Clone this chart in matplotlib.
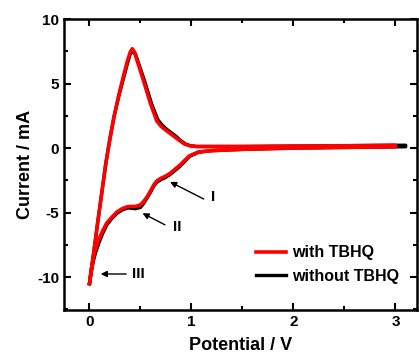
import matplotlib
matplotlib.use('Agg')
import matplotlib.pyplot as plt
from matplotlib.ticker import MultipleLocator

plt.rcParams['font.family'] = ['Liberation Sans', 'DejaVu Sans']
plt.rcParams['font.weight'] = 'bold'
plt.rcParams['axes.unicode_minus'] = False

# with TBHQ (red): forward scan then reverse scan
red_fwd_v = [0.00, 0.04, 0.08, 0.12, 0.16, 0.20, 0.24, 0.29, 0.34, 0.37, 0.40, 0.42,
             0.44, 0.47, 0.53, 0.60, 0.66, 0.70, 0.73, 0.78, 0.83, 0.88, 0.93, 0.98,
             1.05, 1.50, 2.00, 2.50, 3.00]
red_fwd_i = [-10.5, -8.2, -5.8, -3.5, -1.2, 0.7, 2.4, 4.2, 5.8, 6.7, 7.45, 7.7,
             7.45, 6.7, 5.2, 3.4, 2.1, 1.7, 1.5, 1.2, 0.9, 0.6, 0.32, 0.18,
             0.12, 0.12, 0.15, 0.18, 0.22]
red_rev_v = [3.00, 2.50, 2.00, 1.50, 1.20, 1.07, 0.98, 0.89, 0.79, 0.74, 0.70, 0.66,
             0.63, 0.60, 0.566, 0.53, 0.50, 0.45, 0.40, 0.37, 0.32, 0.27, 0.22, 0.17,
             0.13, 0.09, 0.06, 0.04, 0.02, 0.00]
red_rev_i = [0.1, 0.05, 0.0, -0.1, -0.2, -0.3, -0.6, -1.3, -1.96, -2.2, -2.34, -2.55,
             -2.86, -3.3, -3.76, -4.15, -4.4, -4.53, -4.52, -4.55, -4.7, -4.95, -5.35, -5.8,
             -6.4, -7.1, -7.8, -8.4, -9.3, -10.5]

# without TBHQ (black)
blk_fwd_v = [0.00, 0.04, 0.08, 0.12, 0.16, 0.20, 0.24, 0.29, 0.34, 0.37, 0.40, 0.42,
             0.45, 0.48, 0.54, 0.61, 0.67, 0.71, 0.75, 0.80, 0.85, 0.89, 0.94, 0.99,
             1.05, 1.50, 2.00, 2.50, 3.10]
blk_fwd_i = [-10.5, -8.2, -5.8, -3.5, -1.2, 0.7, 2.4, 4.1, 5.6, 6.5, 7.3, 7.5,
             7.3, 6.6, 5.2, 3.4, 2.2, 1.8, 1.5, 1.2, 0.9, 0.6, 0.32, 0.18,
             0.12, 0.12, 0.15, 0.18, 0.22]
blk_rev_v = [3.10, 2.50, 2.00, 1.50, 1.20, 1.07, 0.98, 0.89, 0.79, 0.74, 0.70, 0.66,
             0.63, 0.60, 0.566, 0.53, 0.50, 0.45, 0.40, 0.37, 0.32, 0.27, 0.22, 0.17,
             0.13, 0.09, 0.06, 0.04, 0.02, 0.00]
blk_rev_i = [0.1, 0.05, 0.0, -0.1, -0.2, -0.32, -0.65, -1.4, -2.05, -2.3, -2.45, -2.65,
             -2.95, -3.4, -3.85, -4.3, -4.6, -4.7, -4.65, -4.65, -4.8, -5.05, -5.45, -5.95,
             -6.6, -7.4, -8.1, -8.7, -9.5, -10.5]

# peak annotations: label, label position, arrow tip, arrow tail
peak_labels = ['I', 'II', 'III']
label_xy = [(1.19, -3.76), (0.82, -6.08), (0.42, -9.74)]
tip_xy = [(0.79, -2.62), (0.52, -5.05), (0.11, -9.76)]
tail_xy = [(1.12, -3.95), (0.74, -5.95), (0.36, -9.76)]

fig = plt.figure(figsize=(4.19, 3.56), dpi=100)
ax = fig.add_axes([0.1527, 0.1292, 0.8423, 0.8174])

ax.plot(blk_fwd_v + blk_rev_v, blk_fwd_i + blk_rev_i, color='black', lw=2.4,
        solid_joinstyle='round', label='without TBHQ')
ax.plot(red_fwd_v + red_rev_v, red_fwd_i + red_rev_i, color='red', lw=2.6,
        solid_joinstyle='round', label='with TBHQ')

for lab, lxy, txy, sxy in zip(peak_labels, label_xy, tip_xy, tail_xy):
    ax.annotate('', xy=txy, xytext=sxy,
                arrowprops=dict(arrowstyle='-|>', color='black', lw=1.0,
                                mutation_scale=9, shrinkA=0, shrinkB=0))
    ax.text(lxy[0], lxy[1], lab, fontsize=11, fontweight='bold',
            ha='left', va='center')

ax.set_xlim(-0.25, 3.21)
ax.set_ylim(-12.55, 10)
ax.xaxis.set_major_locator(MultipleLocator(1))
ax.xaxis.set_minor_locator(MultipleLocator(0.5))
ax.yaxis.set_major_locator(MultipleLocator(5))
ax.yaxis.set_minor_locator(MultipleLocator(2.5))
ax.tick_params(which='both', direction='in', top=True, right=True, width=1.5,
               labelsize=11)
ax.tick_params(which='major', length=5)
ax.tick_params(which='minor', length=3)
for sp in ax.spines.values():
    sp.set_linewidth(1.8)
for t in ax.get_xticklabels() + ax.get_yticklabels():
    t.set_fontweight('bold')

ax.set_xlabel('Potential / V', fontsize=13, fontweight='bold', labelpad=6)
ax.set_ylabel('Current / mA', fontsize=13, fontweight='bold', labelpad=2)

handles, labels = ax.get_legend_handles_labels()
ax.legend(handles[::-1], labels[::-1], loc='lower right', frameon=False,
          handlelength=1.9, handletextpad=0.35, labelspacing=0.55,
          bbox_to_anchor=(0.99, 0.04), prop={'weight': 'bold', 'size': 11.5})

fig.savefig('out.png', dpi=100)
